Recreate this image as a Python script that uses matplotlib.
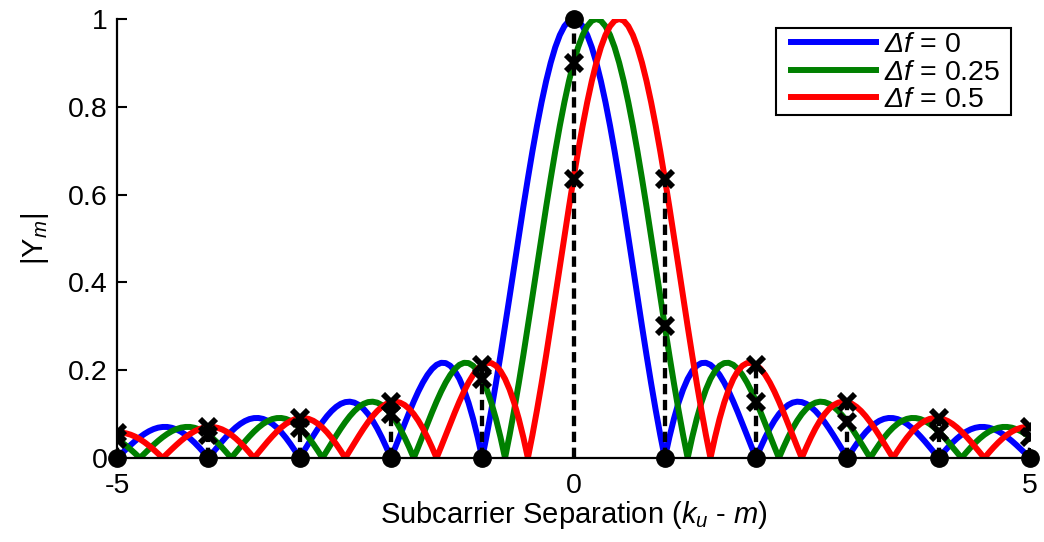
import numpy as np
import matplotlib
matplotlib.use("Agg")
import matplotlib.pyplot as plt
from matplotlib.patches import Rectangle

plt.rcParams['font.family'] = ['Liberation Sans', 'DejaVu Sans']
plt.rcParams['mathtext.fontset'] = 'custom'
plt.rcParams['mathtext.rm'] = 'Liberation Sans:italic'
plt.rcParams['mathtext.it'] = 'Liberation Sans:italic'
plt.rcParams['mathtext.bf'] = 'Liberation Sans:bold'
plt.rcParams['axes.unicode_minus'] = False

# ---- data ----
# |Y_m| of the unshifted response, sampled every 0.05 from 0 to 5.5 (symmetric about 0)
base_step = 0.05
base_half = [1.0, 0.9959, 0.9836, 0.9634, 0.9355, 0.9003, 0.8584, 0.8103, 0.7568, 0.6987,
             0.6366, 0.5716, 0.5046, 0.4363, 0.3679, 0.3001, 0.2339, 0.1700, 0.1093, 0.0524,
             0.0, 0.0474, 0.0894, 0.1257, 0.1559, 0.1801, 0.1981, 0.2101, 0.2162, 0.2168,
             0.2122, 0.2028, 0.1892, 0.1719, 0.1515, 0.1286, 0.1039, 0.0781, 0.0518, 0.0255,
             0.0, 0.0243, 0.0468, 0.0672, 0.0850, 0.1000, 0.1120, 0.1207, 0.1261, 0.1283,
             0.1273, 0.1233, 0.1164, 0.1070, 0.0954, 0.0818, 0.0668, 0.0507, 0.0339, 0.0169,
             0.0, 0.0163, 0.0317, 0.0459, 0.0585, 0.0693, 0.0780, 0.0847, 0.0890, 0.0911,
             0.0909, 0.0886, 0.0841, 0.0777, 0.0696, 0.0600, 0.0492, 0.0375, 0.0252, 0.0126,
             0.0, 0.0123, 0.0240, 0.0348, 0.0445, 0.0530, 0.0599, 0.0652, 0.0688, 0.0707,
             0.0707, 0.0691, 0.0658, 0.0610, 0.0548, 0.0474, 0.0390, 0.0298, 0.0201, 0.0101,
             0.0, 0.0099, 0.0193, 0.0281, 0.0360, 0.0429, 0.0486, 0.0530, 0.0561, 0.0577,
             0.0579]
freq_offsets = [0.0, 0.25, 0.5]
series_labels = [r'$Δf$ = 0', r'$Δf$ = 0.25', r'$Δf$ = 0.5']
series_colors = ['#0000ff', '#008000', '#ff0000']

subcarriers = [-5, -4, -3, -2, -1, 0, 1, 2, 3, 4, 5]
dot_values = [0, 0, 0, 0, 0, 1, 0, 0, 0, 0, 0]
cross_values_025 = [0.0429, 0.0530, 0.0693, 0.1000, 0.1801, 0.9003, 0.3001, 0.1286, 0.0818, 0.0600, 0.0474]
cross_values_05 = [0.0579, 0.0707, 0.0909, 0.1273, 0.2122, 0.6366, 0.6366, 0.2122, 0.1273, 0.0909, 0.0707]

xticks = [-5, 0, 5]
yticks = [0, 0.2, 0.4, 0.6, 0.8, 1]
ytick_labels = ['0', '0.2', '0.4', '0.6', '0.8', '1']

# ---- build curve ----
half = np.array(base_half)
n = len(half)
base_y = np.concatenate([half[:0:-1], half])
base_x = np.arange(-(n - 1), n) * base_step

W, H = 1044, 542
fig = plt.figure(figsize=(W / 100, H / 100), dpi=100)
ax = fig.add_axes([0.1121, 0.155, 0.8745, 0.810])

for off, lab, col in zip(freq_offsets, series_labels, series_colors):
    ax.plot(base_x + off, base_y, color=col, lw=4.3, label=lab, zorder=2)

k = np.array(subcarriers)
tops = np.maximum.reduce([np.array(dot_values), np.array(cross_values_025), np.array(cross_values_05)])
for kk, tt in zip(k, tops):
    ax.plot([kk, kk], [0, tt], color='black', lw=3.1, ls=(0, (2.4, 1.3)), zorder=3)

ax.plot(k, cross_values_025, ls='none', marker='x', ms=11, mew=4.2, color='black', zorder=4)
ax.plot(k, cross_values_05, ls='none', marker='x', ms=11, mew=4.2, color='black', zorder=4)
ax.plot(k, dot_values, ls='none', marker='o', ms=12.5, color='black', zorder=5, clip_on=False)

ax.set_xlim(-5, 5)
ax.set_ylim(0, 1)
ax.set_xticks(xticks)
ax.set_yticks(yticks)
ax.set_yticklabels(ytick_labels)
ax.tick_params(direction='in', length=7, width=1.5, labelsize=20.5, pad=7)
ax.tick_params(axis='x', pad=11)
for s in ['top', 'right']:
    ax.spines[s].set_visible(False)
for s in ['left', 'bottom']:
    ax.spines[s].set_linewidth(1.6)

ax.set_xlabel(r'Subcarrier Separation ($k_u$ - $m$)', fontsize=21, labelpad=0)
ax.set_ylabel(r'|Y$_m$|', fontsize=21, labelpad=12)

# legend box (frame drawn separately for MATLAB-like padding)
box = Rectangle((776 / W, 1 - 115 / H), 235 / W, 87 / H, transform=fig.transFigure,
                facecolor='white', edgecolor='black', lw=1.5, zorder=6, clip_on=False)
ax.add_patch(box)
leg = ax.legend(loc='upper left', bbox_to_anchor=(791 / W, 1 - 32 / H), bbox_transform=fig.transFigure,
                borderaxespad=0, borderpad=0, frameon=False,
                fontsize=20.5, handlelength=3.0, handletextpad=0.28, labelspacing=0.06)
leg.set_zorder(7)

fig.savefig('out.png', dpi=100)
